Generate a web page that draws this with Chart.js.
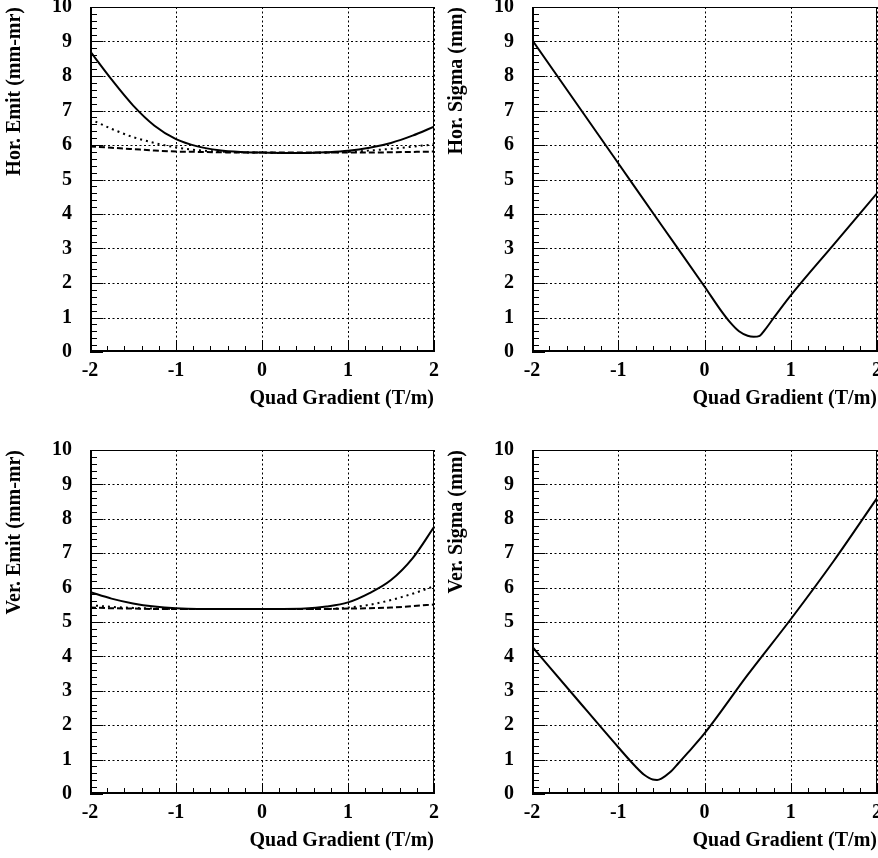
<!DOCTYPE html>
<html lang="en">
<head>
<meta charset="UTF-8">
<title>Quad Gradient scan</title>
<script src="https://cdn.jsdelivr.net/npm/chart.js"></script>
<style>
  body { margin: 0; background: #fff; }
  .panel { position: absolute; }
</style>
</head>
<body>
<div class="panel" style="left:0;top:0"><canvas id="horEmit" width="440" height="416"></canvas></div>
<div class="panel" style="left:442px;top:0"><canvas id="horSigma" width="436" height="416"></canvas></div>
<div class="panel" style="left:0;top:429px"><canvas id="verEmit" width="440" height="429"></canvas></div>
<div class="panel" style="left:442px;top:429px"><canvas id="verSigma" width="436" height="429"></canvas></div>

<script>
// quad gradient (T/m) where emittance was read
const emitX = [-2, -1.75, -1.5, -1.25, -1, -0.75, -0.5, -0.25, 0, 0.25, 0.5, 0.75, 1, 1.25, 1.5, 1.75, 2];

const horEmitSolid  = [8.72, 7.9, 7.15, 6.56, 6.17, 5.96, 5.85, 5.8, 5.78, 5.77, 5.77, 5.79, 5.83, 5.92, 6.06, 6.27, 6.53];
const horEmitDotted = [6.75, 6.47, 6.23, 6.06, 5.93, 5.85, 5.81, 5.79, 5.78, 5.77, 5.77, 5.78, 5.8, 5.84, 5.89, 5.95, 6.02];
const horEmitDashed = [5.96, 5.92, 5.88, 5.84, 5.81, 5.8, 5.79, 5.78, 5.78, 5.78, 5.78, 5.78, 5.78, 5.78, 5.79, 5.8, 5.81];

const verEmitSolid  = [5.87, 5.68, 5.54, 5.45, 5.4, 5.38, 5.38, 5.38, 5.38, 5.38, 5.39, 5.45, 5.57, 5.84, 6.22, 6.85, 7.76];
const verEmitDotted = [5.49, 5.44, 5.41, 5.39, 5.38, 5.38, 5.38, 5.38, 5.38, 5.38, 5.38, 5.38, 5.42, 5.5, 5.64, 5.82, 6.04];
const verEmitDashed = [5.42, 5.4, 5.39, 5.38, 5.38, 5.38, 5.38, 5.38, 5.38, 5.38, 5.38, 5.38, 5.39, 5.4, 5.42, 5.46, 5.51];

const horSigmaX = [-2, -1.5, -1, -0.5, 0, 0.2, 0.3, 0.4, 0.5, 0.57, 0.64, 0.7, 0.8, 1, 1.5, 2];
const horSigma  = [9.05, 7.26, 5.47, 3.68, 1.9, 1.17, 0.85, 0.6, 0.47, 0.44, 0.47, 0.64, 0.98, 1.64, 3.12, 4.6];

const verSigmaX = [-2, -1.5, -1, -0.8, -0.7, -0.6, -0.55, -0.5, -0.4, -0.3, -0.2, 0, 0.5, 1, 1.5, 2];
const verSigma  = [4.29, 2.82, 1.36, 0.8, 0.56, 0.42, 0.41, 0.45, 0.63, 0.9, 1.18, 1.76, 3.46, 5.08, 6.78, 8.6];

const xTicks = [-2, -1, 0, 1, 2];
const xTitle = 'Quad Gradient (T/m)';

const font = { family: '"Liberation Serif", "Times New Roman", serif', size: 20, weight: 'bold' };

function pts(xs, ys) {
    return xs.map((x, i) => ({ x: x, y: ys[i] }));
}

function line(xs, ys, dash) {
    return {
        data: pts(xs, ys),
        borderColor: '#000',
        borderWidth: 2,
        borderDash: dash,
        pointRadius: 0,
        fill: false,
        cubicInterpolationMode: 'monotone'
    };
}

// dotted grid, frame and inner ticks like the original plots
const frame = {
    id: 'frame',
    beforeDatasetsDraw(chart) {
        const { ctx, chartArea: a, scales: { x, y } } = chart;
        ctx.save();
        ctx.strokeStyle = '#000';
        ctx.lineWidth = 1;
        ctx.setLineDash([2, 2.5]);
        xTicks.forEach(v => {
            const px = Math.round(x.getPixelForValue(v)) + 0.5;
            ctx.beginPath(); ctx.moveTo(px, a.top); ctx.lineTo(px, a.bottom); ctx.stroke();
        });
        for (let v = 1; v <= 10; v++) {
            const py = Math.round(y.getPixelForValue(v)) + 0.5;
            ctx.beginPath(); ctx.moveTo(a.left, py); ctx.lineTo(a.right, py); ctx.stroke();
        }
        ctx.restore();
    },
    afterDraw(chart) {
        const { ctx, chartArea: a, scales: { x, y } } = chart;
        const L = Math.round(a.left), R = Math.round(a.right);
        const T = Math.round(a.top), B = Math.round(a.bottom);
        ctx.save();
        ctx.setLineDash([]);
        ctx.fillStyle = '#000';
        // frame: thin top/right, heavier left/bottom
        ctx.fillRect(L, T, R - L, 1);
        ctx.fillRect(R - 1, T, 1, B - T);
        ctx.fillRect(L, T, 2, B - T);
        ctx.fillRect(L, B - 2, R - L, 2);
        // ticks every 0.2, longer at the integers
        for (let i = 0; i <= 20; i++) {
            const px = Math.round(x.getPixelForValue(-2 + i * 0.2));
            const len = i % 5 === 0 ? 11 : 6;
            ctx.fillRect(px, B - len, 1, len);
        }
        for (let i = 0; i <= 50; i++) {
            const py = Math.round(y.getPixelForValue(i * 0.2));
            const len = i % 5 === 0 ? 13 : 7;
            ctx.fillRect(L, py, len, 1);
        }
        ctx.restore();
    }
};

function makeChart(id, datasets, yTitle, topPad, rightPad) {
    return new Chart(document.getElementById(id), {
        type: 'line',
        data: { datasets: datasets },
        plugins: [frame],
        options: {
            responsive: false,
            animation: false,
            layout: { padding: { top: topPad, right: rightPad, left: 0, bottom: 0 } },
            plugins: { legend: { display: false }, tooltip: { enabled: false } },
            scales: {
                x: {
                    type: 'linear',
                    min: -2, max: 2,
                    afterFit: s => { s.height = 64; s.paddingLeft = 0; s.paddingRight = 0; },
                    afterBuildTicks: s => { s.ticks = xTicks.map(v => ({ value: v })); },
                    grid: { display: false, drawTicks: false },
                    border: { display: false },
                    ticks: { color: '#000', font: font, padding: 7, maxRotation: 0 },
                    title: { display: true, text: xTitle, align: 'end', color: '#000', font: font, padding: { top: 0, bottom: 5 } }
                },
                y: {
                    min: 0, max: 10,
                    afterFit: s => { s.width = 90; s.paddingTop = 0; s.paddingBottom = 0; },
                    grid: { display: false, drawTicks: false },
                    border: { display: false },
                    ticks: { color: '#000', font: font, padding: 18, stepSize: 1 },
                    title: { display: true, text: yTitle, align: 'end', color: '#000', font: font, padding: { top: 3, bottom: 0 } }
                }
            }
        }
    });
}

makeChart('horEmit', [
    line(emitX, horEmitSolid, []),
    line(emitX, horEmitDotted, [2, 4]),
    line(emitX, horEmitDashed, [6, 3])
], 'Hor. Emit (mm-mr)', 7, 6);

makeChart('horSigma', [line(horSigmaX, horSigma, [])], 'Hor. Sigma (mm)', 7, 1);

makeChart('verEmit', [
    line(emitX, verEmitSolid, []),
    line(emitX, verEmitDotted, [2, 4]),
    line(emitX, verEmitDashed, [6, 3])
], 'Ver. Emit (mm-mr)', 21, 6);

makeChart('verSigma', [line(verSigmaX, verSigma, [])], 'Ver. Sigma (mm)', 21, 1);
</script>
</body>
</html>
